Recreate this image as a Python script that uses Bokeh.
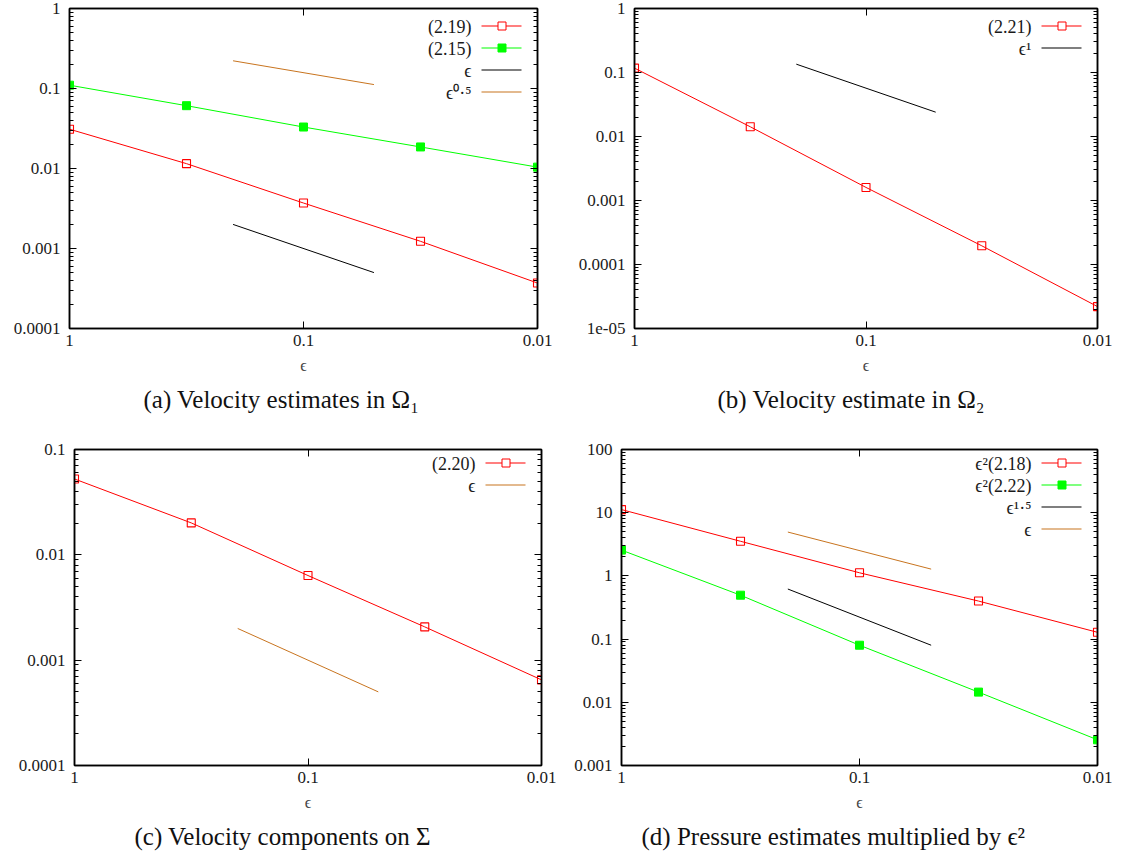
from bokeh.plotting import figure
from bokeh.models import (Range1d, FixedTicker, CustomJSTickFormatter, LogAxis, Label,
                          BoxAnnotation, PolyAnnotation, Title)
from bokeh.layouts import column, row
from bokeh.embed import file_html
from bokeh.resources import INLINE

# ---------------- data ----------------
EPS = [1.0, 0.3162, 0.1, 0.03162, 0.01]
X_TICKS = [0.01, 0.1, 1.0]
X_LABELS = ["0.01", "0.1", "1"]
REF_X = [0.2, 0.05]

# (a) Velocity estimates in Omega_1
A_219 = [0.031, 0.0115, 0.0037, 0.00123, 0.00037]
A_215 = [0.11, 0.061, 0.033, 0.0186, 0.0104]
A_REF_EPS = [0.002, 0.0005]
A_REF_SQRT = [0.222, 0.112]
A_YTICKS = [1e-4, 1e-3, 1e-2, 1e-1, 1.0]
A_YLABELS = ["0.0001", "0.001", "0.01", "0.1", "1"]

# (b) Velocity estimate in Omega_2
B_221 = [0.117, 0.0142, 0.0016, 0.000196, 0.000022]
B_REF_EPS1 = [0.135, 0.024]
B_YTICKS = [1e-5, 1e-4, 1e-3, 1e-2, 1e-1, 1.0]
B_YLABELS = ["1e-05", "0.0001", "0.001", "0.01", "0.1", "1"]

# (c) Velocity components on Sigma
C_220 = [0.0525, 0.0201, 0.00636, 0.00207, 0.00065]
C_REF_EPS = [0.002, 0.0005]
C_YTICKS = [1e-4, 1e-3, 1e-2, 1e-1]
C_YLABELS = ["0.0001", "0.001", "0.01", "0.1"]

# (d) Pressure estimates multiplied by eps^2
D_218 = [11.2, 3.53, 1.12, 0.40, 0.128]
D_222 = [2.56, 0.495, 0.080, 0.0145, 0.00255]
D_REF_EPS15 = [0.62, 0.08]
D_REF_EPS = [4.94, 1.28]
D_YTICKS = [1e-3, 1e-2, 1e-1, 1.0, 10.0, 100.0]
D_YLABELS = ["0.001", "0.01", "0.1", "1", "10", "100"]

RED = "#ff0000"
GREEN = "#00ff00"
ORANGE = "#c8741f"
BLACK = "#000000"
FONT = "'Liberation Serif', serif"

FMT_CODE = """
for (let i = 0; i < vals.length; i++) {
  if (Math.abs(Math.log10(tick) - Math.log10(vals[i])) < 1e-6) { return labs[i]; }
}
return " ";
"""


def minor_ticks(decades):
    out = []
    for d in decades[:-1]:
        for k in range(2, 10):
            out.append(d * k)
    return out


def style_axis(ax, show_labels, is_x):
    ax.major_tick_in = 7
    ax.major_tick_out = 0
    ax.minor_tick_in = 0 if is_x else 4
    ax.minor_tick_out = 0
    ax.major_tick_line_color = BLACK
    ax.minor_tick_line_color = BLACK
    ax.axis_line_color = BLACK
    ax.axis_line_width = 1.5
    if show_labels:
        ax.major_label_text_font = FONT
        ax.major_label_text_font_size = "17px"
        ax.major_label_text_color = "#1a1a1a"
        ax.major_label_standoff = 6 if is_x else 9
    else:
        ax.major_label_text_font_size = "1px"
        ax.major_label_text_alpha = 0
        ax.major_label_standoff = 0


def make_panel(W, H, bl, br, bt, bb, yrange, yticks, ylabels, caption, cap_offset,
               lines, legend):
    p = figure(width=W, height=H, x_axis_type="log", y_axis_type="log",
               x_range=Range1d(1.0, 0.01), y_range=Range1d(*yrange),
               min_border_left=bl, min_border_right=br, min_border_top=bt,
               min_border_bottom=bb, output_backend="svg", toolbar_location=None,
               background_fill_color="white", border_fill_color="white",
               outline_line_color=BLACK, outline_line_width=1.5)
    p.xgrid.visible = False
    p.ygrid.visible = False

    xt = FixedTicker(ticks=X_TICKS, minor_ticks=[])
    yt = FixedTicker(ticks=yticks, minor_ticks=minor_ticks(yticks))
    xf = CustomJSTickFormatter(args=dict(vals=X_TICKS, labs=X_LABELS), code=FMT_CODE)
    yf = CustomJSTickFormatter(args=dict(vals=yticks, labs=ylabels), code=FMT_CODE)

    xa = p.xaxis[0]
    xa.ticker = xt
    xa.formatter = xf
    style_axis(xa, True, True)
    xa.axis_label = "ϵ"
    xa.axis_label_text_font = FONT
    xa.axis_label_text_font_size = "16px"
    xa.axis_label_text_font_style = "normal"
    xa.axis_label_standoff = 8

    ya = p.yaxis[0]
    ya.ticker = yt
    ya.formatter = yf
    style_axis(ya, True, False)

    top = LogAxis(ticker=xt)
    style_axis(top, False, True)
    p.add_layout(top, "above")
    right = LogAxis(ticker=yt)
    style_axis(right, False, False)
    p.add_layout(right, "right")

    for xs, ys, color, marker in lines:
        p.line(xs, ys, line_color=color, line_width=1)
        if marker == "open":
            p.scatter(xs, ys, marker="square", size=8, fill_color=None,
                      line_color=color, line_width=1.1)
        elif marker == "filled":
            p.scatter(xs, ys, marker="square", size=8, fill_color=color,
                      line_color=color, line_width=1)

    fw = W - bl - br
    fh = H - bt - bb
    for i, (lab, color, marker) in enumerate(legend):
        sy = fh - (18 + 22 * i)
        p.add_layout(Label(x=fw - 66, y=sy, x_units="screen", y_units="screen",
                           text=lab, text_align="right", text_baseline="middle",
                           text_font=FONT, text_font_size="18px", text_color="#1a1a1a"))
        p.add_layout(PolyAnnotation(xs=[fw - 56, fw - 16, fw - 16, fw - 56],
                                    ys=[sy + 1, sy + 1, sy, sy],
                                    xs_units="screen", ys_units="screen",
                                    fill_color=color, fill_alpha=1.0,
                                    line_color=None))
        if marker is not None:
            cx = fw - 36
            p.add_layout(BoxAnnotation(left=cx - 3.5, right=cx + 4.5,
                                       bottom=sy - 3.5, top=sy + 4.5,
                                       left_units="screen", right_units="screen",
                                       bottom_units="screen", top_units="screen",
                                       fill_color=(color if marker == "filled" else "white"),
                                       fill_alpha=1.0, line_color=color, line_width=1,
                                       line_alpha=1.0))

    p.add_layout(Title(text=caption, align="left", offset=cap_offset,
                       text_font=FONT, text_font_size="25px", text_font_style="normal",
                       text_color="#111111", standoff=14), "below")
    return p


pa = make_panel(568, 425, 69, 31, 8, 97, (1e-4, 1.0), A_YTICKS, A_YLABELS,
                "(a) Velocity estimates in Ω₁", 74,
                [(EPS, A_219, RED, "open"), (EPS, A_215, GREEN, "filled"),
                 (REF_X, A_REF_EPS, BLACK, None), (REF_X, A_REF_SQRT, ORANGE, None)],
                [("(2.19)", RED, "open"), ("(2.15)", GREEN, "filled"),
                 ("ϵ", BLACK, None), ("ϵ⁰·⁵", ORANGE, None)])

pb = make_panel(555, 425, 66, 26, 8, 97, (1e-5, 1.0), B_YTICKS, B_YLABELS,
                "(b) Velocity estimate in Ω₂", 83,
                [(EPS, B_221, RED, "open"), (REF_X, B_REF_EPS1, BLACK, None)],
                [("(2.21)", RED, "open"), ("ϵ¹", BLACK, None)])

pc = make_panel(568, 431, 74, 27, 24, 87, (1e-4, 0.1), C_YTICKS, C_YLABELS,
                "(c) Velocity components on Σ", 60,
                [(EPS, C_220, RED, "open"), (REF_X, C_REF_EPS, ORANGE, None)],
                [("(2.20)", RED, "open"), ("ϵ", ORANGE, None)])

pd_ = make_panel(555, 431, 53, 26, 24, 87, (1e-3, 100.0), D_YTICKS, D_YLABELS,
                 "(d) Pressure estimates multiplied by ϵ²", 20,
                 [(EPS, D_218, RED, "open"), (EPS, D_222, GREEN, "filled"),
                  (REF_X, D_REF_EPS15, BLACK, None), (REF_X, D_REF_EPS, ORANGE, None)],
                 [("ϵ²(2.18)", RED, "open"), ("ϵ²(2.22)", GREEN, "filled"),
                  ("ϵ¹·⁵", BLACK, None), ("ϵ", ORANGE, None)])

layout = column(row(pa, pb), row(pc, pd_))
open("out.html", "w").write(file_html(layout, INLINE))
